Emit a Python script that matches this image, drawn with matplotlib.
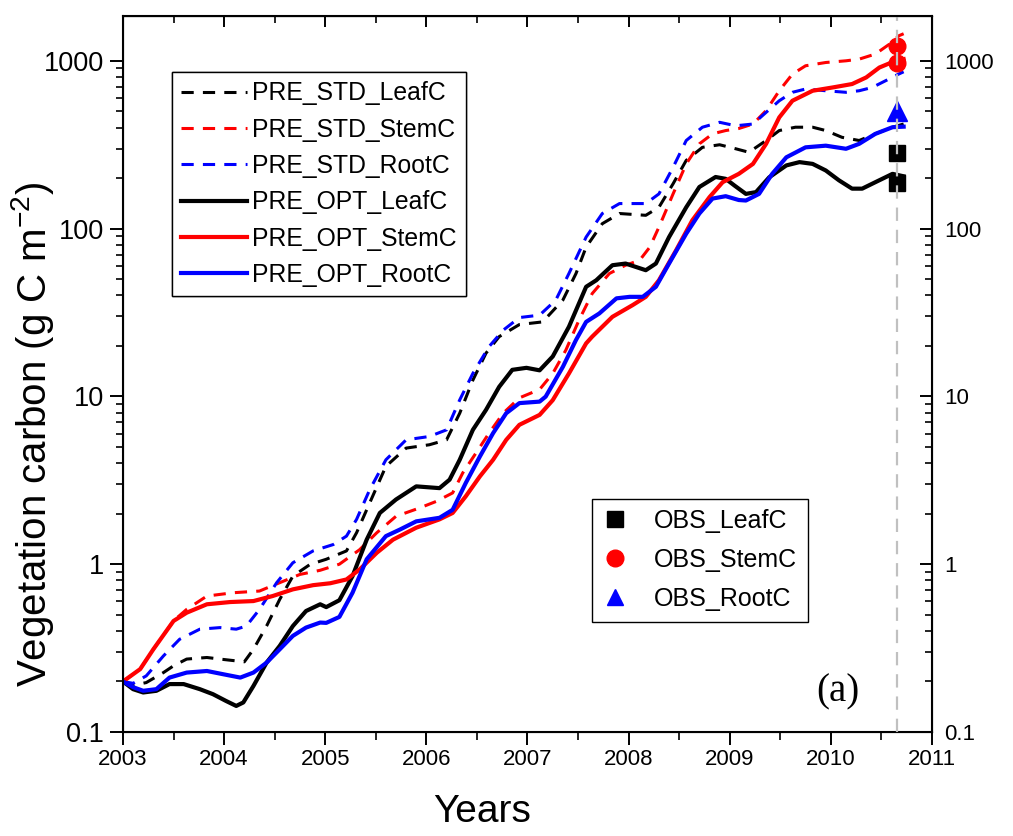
import matplotlib
matplotlib.use("Agg")
import matplotlib.pyplot as plt
from matplotlib.ticker import FixedLocator, LogLocator, FuncFormatter, NullFormatter

plt.rcParams['font.family'] = ['Liberation Sans', 'DejaVu Sans']
plt.rcParams['mathtext.fontset'] = 'custom'
plt.rcParams['mathtext.rm'] = 'Liberation Sans'
plt.rcParams['mathtext.it'] = 'Liberation Sans:italic'

# ---- data ----
opt_stem_yr = [2003.0, 2003.17, 2003.30, 2003.50, 2003.63, 2003.83, 2004.06, 2004.29, 2004.48, 2004.68,
               2004.88, 2005.05, 2005.21, 2005.34, 2005.51, 2005.67, 2005.90, 2006.13, 2006.26, 2006.39,
               2006.53, 2006.66, 2006.79, 2006.92, 2007.12, 2007.25, 2007.41, 2007.58, 2007.64, 2007.84,
               2008.04, 2008.17, 2008.30, 2008.47, 2008.63, 2008.80, 2008.93, 2009.09, 2009.23, 2009.36,
               2009.49, 2009.62, 2009.82, 2010.02, 2010.21, 2010.35, 2010.48, 2010.64, 2010.72]
opt_stem = [0.20, 0.237, 0.311, 0.459, 0.514, 0.577, 0.595, 0.603, 0.646, 0.708,
            0.75, 0.77, 0.811, 0.93, 1.17, 1.40, 1.65, 1.85, 2.02, 2.54,
            3.34, 4.19, 5.51, 6.77, 7.76, 9.5, 13.7, 20.7, 22.7, 29.8,
            35.0, 39.2, 49.2, 74.3, 112, 154, 189, 212, 243, 320,
            460, 578, 663, 694, 727, 796, 912, 1000, 1023]

opt_root_yr = [2003.0, 2003.10, 2003.20, 2003.33, 2003.46, 2003.63, 2003.83, 2003.99, 2004.16, 2004.29,
               2004.42, 2004.55, 2004.68, 2004.81, 2004.95, 2005.01, 2005.14, 2005.27, 2005.41, 2005.60,
               2005.74, 2005.90, 2006.13, 2006.26, 2006.39, 2006.53, 2006.66, 2006.79, 2006.92, 2007.12,
               2007.18, 2007.35, 2007.48, 2007.58, 2007.71, 2007.88, 2008.01, 2008.14, 2008.27, 2008.40,
               2008.57, 2008.70, 2008.83, 2008.96, 2009.09, 2009.16, 2009.29, 2009.42, 2009.56, 2009.75,
               2009.95, 2010.15, 2010.28, 2010.44, 2010.61, 2010.72]
opt_root = [0.20, 0.185, 0.176, 0.180, 0.211, 0.226, 0.231, 0.221, 0.211, 0.226,
            0.259, 0.311, 0.374, 0.419, 0.449, 0.447, 0.485, 0.676, 1.07, 1.47,
            1.61, 1.80, 1.89, 2.11, 3.05, 4.39, 6.04, 7.94, 9.12, 9.31,
            9.97, 15.0, 21.7, 27.8, 31.2, 38.4, 39.2, 39.2, 45.0, 61.9,
            93.3, 123, 151, 156, 148, 147, 161, 212, 266, 305,
            312, 299, 320, 367, 402, 405]

opt_leaf_yr = [2003.0, 2003.10, 2003.20, 2003.33, 2003.46, 2003.60, 2003.76, 2003.89, 2004.02, 2004.12,
               2004.19, 2004.29, 2004.42, 2004.55, 2004.68, 2004.81, 2004.95, 2005.01, 2005.14, 2005.27,
               2005.41, 2005.54, 2005.70, 2005.90, 2006.13, 2006.23, 2006.33, 2006.46, 2006.59, 2006.72,
               2006.85, 2006.99, 2007.12, 2007.25, 2007.41, 2007.58, 2007.68, 2007.84, 2007.97, 2008.17,
               2008.27, 2008.40, 2008.57, 2008.70, 2008.86, 2008.96, 2009.05, 2009.16, 2009.26, 2009.39,
               2009.56, 2009.69, 2009.82, 2009.95, 2010.08, 2010.21, 2010.31, 2010.44, 2010.61, 2010.72]
opt_leaf = [0.20, 0.180, 0.172, 0.176, 0.193, 0.193, 0.180, 0.168, 0.153, 0.143,
            0.150, 0.188, 0.259, 0.326, 0.428, 0.526, 0.577, 0.555, 0.61, 0.849,
            1.40, 2.02, 2.43, 2.91, 2.84, 3.19, 4.19, 6.32, 8.31, 11.4,
            14.4, 14.8, 14.3, 17.3, 26.0, 45.0, 49.2, 60.5, 61.9, 56.5,
            61.9, 89, 134, 177, 203, 198, 180, 161, 165, 202,
            238, 249, 243, 222, 194, 173, 173, 189, 212, 205]

std_stem_yr = [2003.0, 2003.17, 2003.30, 2003.50, 2003.63, 2003.83, 2004.09, 2004.35, 2004.55, 2004.75,
               2004.95, 2005.14, 2005.34, 2005.51, 2005.70, 2005.93, 2006.10, 2006.26, 2006.36, 2006.49,
               2006.62, 2006.76, 2006.92, 2007.12, 2007.25, 2007.38, 2007.51, 2007.64, 2007.81, 2007.97,
               2008.11, 2008.21, 2008.30, 2008.44, 2008.57, 2008.70, 2008.83, 2008.96, 2009.09, 2009.23,
               2009.36, 2009.49, 2009.62, 2009.75, 2009.95, 2010.15, 2010.28, 2010.44, 2010.58, 2010.67,
               2010.72]
std_stem = [0.20, 0.237, 0.311, 0.46, 0.538, 0.646, 0.676, 0.692, 0.776, 0.869,
            0.92, 1.0, 1.22, 1.54, 1.93, 2.16, 2.37, 2.66, 3.50, 4.59,
            6.04, 7.94, 9.8, 11.0, 13.7, 18.9, 28.5, 41.0, 54.0, 60.5,
            64.8, 77.6, 102, 161, 243, 320, 367, 384, 395, 420,
            505, 663, 833, 934, 977, 1000, 1023, 1097, 1257, 1408,
            1450]

std_root_yr = [2003.0, 2003.10, 2003.23, 2003.40, 2003.56, 2003.76, 2003.96, 2004.12, 2004.22, 2004.35,
               2004.52, 2004.68, 2004.88, 2005.08, 2005.21, 2005.31, 2005.44, 2005.60, 2005.80, 2006.03,
               2006.20, 2006.33, 2006.46, 2006.62, 2006.76, 2006.92, 2007.12, 2007.28, 2007.41, 2007.58,
               2007.74, 2007.91, 2008.17, 2008.30, 2008.44, 2008.57, 2008.73, 2008.90, 2009.06, 2009.23,
               2009.36, 2009.49, 2009.62, 2009.75, 2009.95, 2010.15, 2010.28, 2010.41, 2010.54, 2010.67,
               2010.72]
std_root = [0.20, 0.195, 0.216, 0.284, 0.357, 0.410, 0.419, 0.410, 0.428, 0.538,
            0.776, 1.02, 1.20, 1.31, 1.47, 1.85, 2.78, 4.19, 5.51, 5.77,
            6.32, 9.53, 13.7, 19.8, 24.8, 29.5, 30.5, 37.5, 54.0, 89,
            123, 141, 141, 161, 232, 335, 402, 430, 410, 420,
            493, 578, 649, 679, 663, 649, 663, 694, 760, 833,
            860]

std_leaf_yr = [2003.0, 2003.10, 2003.23, 2003.40, 2003.50, 2003.63, 2003.83, 2003.96, 2004.20, 2004.29,
               2004.42, 2004.55, 2004.68, 2004.85, 2005.01, 2005.21, 2005.31, 2005.44, 2005.60, 2005.80,
               2006.03, 2006.20, 2006.33, 2006.46, 2006.59, 2006.72, 2006.92, 2007.15, 2007.35, 2007.48,
               2007.58, 2007.74, 2007.91, 2008.17, 2008.30, 2008.44, 2008.57, 2008.73, 2008.90, 2009.06,
               2009.19, 2009.36, 2009.49, 2009.65, 2009.82, 2009.95, 2010.11, 2010.28, 2010.44, 2010.61,
               2010.72]
std_leaf = [0.20, 0.19, 0.197, 0.226, 0.248, 0.272, 0.278, 0.272, 0.262, 0.311,
            0.428, 0.617, 0.849, 0.997, 1.07, 1.20, 1.54, 2.32, 3.83, 4.92,
            5.15, 5.51, 7.94, 12.5, 18.1, 22.7, 26.8, 27.8, 37.5, 54.0,
            77.6, 107, 123, 120, 134, 185, 255, 305, 316, 299,
            285, 335, 384, 402, 402, 384, 350, 335, 367, 402,
            420]

obs_year = 2010.654
obs_leaf = [283, 188]
obs_stem = [1228, 973]
obs_root = [505]

# ---- figure ----
fig = plt.figure(figsize=(10.13, 8.36), dpi=100)
ax = fig.add_axes([0.1214, 0.1244, 0.7986, 0.8565])

dash_kw = dict(lw=2.2, dashes=(4, 3))
ax.plot(std_leaf_yr, std_leaf, color='black', label='PRE_STD_LeafC', **dash_kw)
ax.plot(std_stem_yr, std_stem, color='#ff0000', label='PRE_STD_StemC', **dash_kw)
ax.plot(std_root_yr, std_root, color='#0000ff', label='PRE_STD_RootC', **dash_kw)
ax.plot(opt_leaf_yr, opt_leaf, color='black', lw=3.0, label='PRE_OPT_LeafC')
ax.plot(opt_stem_yr, opt_stem, color='#ff0000', lw=3.0, label='PRE_OPT_StemC')
ax.plot(opt_root_yr, opt_root, color='#0000ff', lw=3.0, label='PRE_OPT_RootC')
lines = ax.get_lines()

m1, = ax.plot([obs_year] * len(obs_leaf), obs_leaf, 's', color='black', ms=11, ls='none',
              label='OBS_LeafC', zorder=4)
m2, = ax.plot([obs_year] * len(obs_stem), obs_stem, 'o', color='#ff0000', ms=12, ls='none',
              label='OBS_StemC', zorder=4)
m3, = ax.plot([obs_year] * len(obs_root), obs_root, '^', color='#0000ff', ms=14, ls='none',
              label='OBS_RootC', zorder=4)

ax.axvline(obs_year, color='#c0c0c0', lw=1.6, dashes=(6, 4), zorder=5)

ax.set_yscale('log')
ax.set_xlim(2003, 2011)
ax.set_ylim(0.1, 1850)

ytick_fmt = FuncFormatter(lambda v, p: '%g' % v)
ax.yaxis.set_major_locator(FixedLocator([0.1, 1, 10, 100, 1000]))
ax.yaxis.set_major_formatter(ytick_fmt)
ax.yaxis.set_minor_locator(LogLocator(base=10, subs=range(2, 10)))
ax.yaxis.set_minor_formatter(NullFormatter())
ax.xaxis.set_major_locator(FixedLocator(range(2003, 2012)))
ax.xaxis.set_minor_locator(FixedLocator([y + 0.5 for y in range(2003, 2011)]))

ax.tick_params(axis='y', which='major', direction='out', length=9.5, width=1.4, labelsize=19.5, pad=4)
ax.tick_params(axis='y', which='minor', direction='out', length=5, width=1.2)
ax.tick_params(axis='x', which='major', direction='out', length=9.5, width=1.4, labelsize=16, pad=3)
ax.tick_params(axis='x', which='minor', direction='out', length=6, width=1.2)
for s in ax.spines.values():
    s.set_linewidth(1.5)

# right axis: ticks inward
ax_r = ax.twinx()
ax_r.set_yscale('log')
ax_r.set_ylim(ax.get_ylim())
ax_r.yaxis.set_major_locator(FixedLocator([0.1, 1, 10, 100, 1000]))
ax_r.yaxis.set_major_formatter(ytick_fmt)
ax_r.yaxis.set_minor_locator(LogLocator(base=10, subs=range(2, 10)))
ax_r.yaxis.set_minor_formatter(NullFormatter())
ax_r.tick_params(axis='y', which='major', direction='in', length=9, width=1.4, labelsize=16, pad=9)
ax_r.tick_params(axis='y', which='minor', direction='in', length=5, width=1.2)

# top axis: ticks inward, no labels
ax_t = ax.secondary_xaxis('top')
ax_t.xaxis.set_major_locator(FixedLocator(range(2003, 2012)))
ax_t.xaxis.set_minor_locator(FixedLocator([y + 0.5 for y in range(2003, 2011)]))
ax_t.tick_params(axis='x', which='major', direction='in', length=8, width=1.4, labeltop=False)
ax_t.tick_params(axis='x', which='minor', direction='in', length=5, width=1.2)

ax.set_xlabel('Years', fontsize=28)
ax.xaxis.set_label_coords(0.444, -0.086)
ax.set_ylabel('Vegetation carbon (g C m$^{-2}$)', fontsize=29)
ax.yaxis.set_label_coords(-0.083, 0.415)

leg1 = ax.legend(handles=lines, loc='upper left', bbox_to_anchor=(0.0606, 0.922),
                 borderaxespad=0, fontsize=17.8, frameon=True, fancybox=False,
                 edgecolor='black', framealpha=1, handlelength=2.65, handletextpad=0.2,
                 labelspacing=0.5, borderpad=0.38)
leg1.get_frame().set_linewidth(1.0)
leg1.set_zorder(10)
ax.add_artist(leg1)

leg2 = ax_r.legend(handles=[m1, m2, m3], loc='upper left', bbox_to_anchor=(0.580, 0.326),
                   borderaxespad=0, fontsize=18, frameon=True, fancybox=False,
                   edgecolor='black', framealpha=1, handlelength=1.0, handletextpad=1.05,
                   labelspacing=0.6, borderpad=0.42, numpoints=1)
leg2.get_frame().set_linewidth(1.0)
for h in leg2.legend_handles:
    h.set_markersize(12)

ax.text(0.884, 0.056, '(a)', transform=ax.transAxes, fontsize=28, ha='center', va='center',
        family='Liberation Serif')

fig.savefig('out.png', dpi=100)
